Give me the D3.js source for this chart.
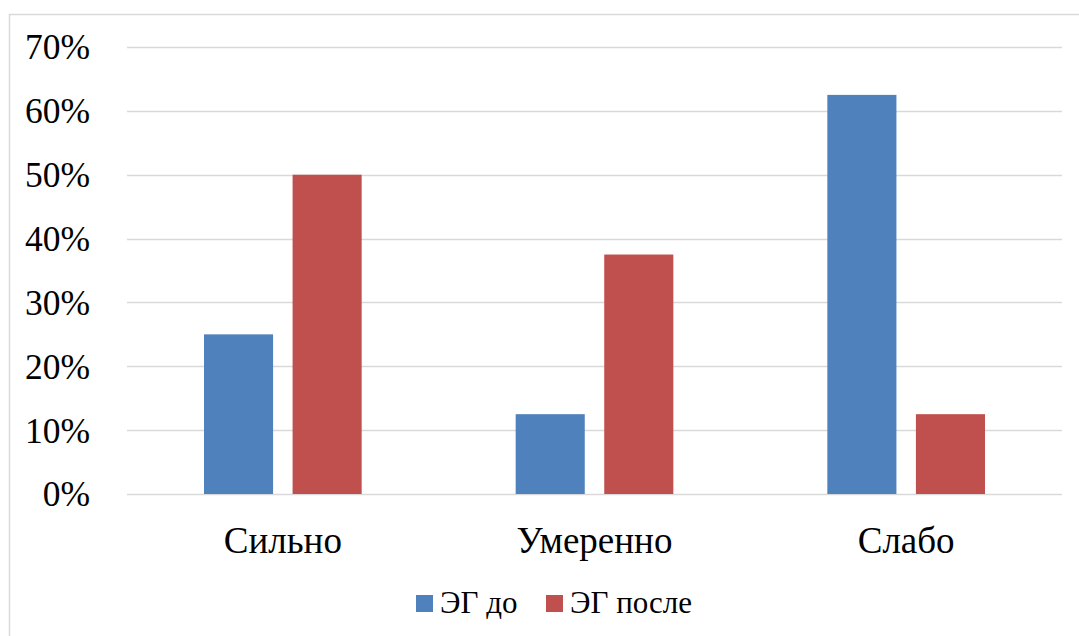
<!DOCTYPE html>
<html>
<head>
<meta charset="utf-8">
<script src="https://cdn.jsdelivr.net/npm/d3@7"></script>
<style>
  body { margin: 0; background: #fff; }
</style>
</head>
<body>
<script>
// chart data
var categories = ['Сильно', 'Умеренно', 'Слабо'];
var seriesNames = ['ЭГ до', 'ЭГ после'];
var before = [0.25, 0.125, 0.625];
var after = [0.50, 0.375, 0.125];
var yTicks = [0, 0.1, 0.2, 0.3, 0.4, 0.5, 0.6, 0.7];
var colors = ['#4f81bd', '#c0504d'];

var FONT = "'Liberation Serif', 'Times New Roman', serif";

var W = 1079, H = 636;
var margin = { top: 47, right: 17, bottom: 142, left: 127 };
var width = W - margin.left - margin.right;
var height = H - margin.top - margin.bottom;

var svg = d3.select('body').append('svg')
  .attr('width', W)
  .attr('height', H)
  .attr('font-family', FONT);

// outer frame (only top/left visible, rest cut off)
svg.append('path')
  .attr('d', 'M9.5,' + H + 'V14.5H' + W)
  .attr('fill', 'none')
  .attr('stroke', '#d9d9d9')
  .attr('stroke-width', 1.5);

var g = svg.append('g')
  .attr('transform', `translate(${margin.left}, ${margin.top})`);

var x0 = d3.scaleBand().domain(categories).range([0, width]);
var x1 = d3.scaleBand().domain(seriesNames).range([77, x0.bandwidth() - 77]).paddingInner(0.22);
var y = d3.scaleLinear().domain([0, 0.7]).range([height, 0]);

// gridlines
g.append('g')
  .selectAll('line')
  .data(yTicks)
  .join('line')
  .attr('x1', 0)
  .attr('x2', width)
  .attr('y1', function(d) { return Math.round(y(d)) + 0.5; })
  .attr('y2', function(d) { return Math.round(y(d)) + 0.5; })
  .attr('stroke', '#d9d9d9')
  .attr('stroke-width', 1.5);

// y labels
g.append('g')
  .selectAll('text')
  .data(yTicks)
  .join('text')
  .attr('x', -37)
  .attr('y', function(d) { return y(d); })
  .attr('dy', '0.35em')
  .attr('text-anchor', 'end')
  .attr('font-size', 35.5)
  .text(d3.format('.0%'));

// bars
var rows = categories.map(function(c, i) {
  return { cat: c, vals: [before[i], after[i]] };
});

var groups = g.selectAll('g.cat')
  .data(rows)
  .join('g')
  .attr('class', 'cat')
  .attr('transform', function(d) { return `translate(${x0(d.cat)}, 0)`; });

groups.selectAll('rect')
  .data(function(d) { return d.vals.map(function(v, j) { return { s: seriesNames[j], v: v, j: j }; }); })
  .join('rect')
  .attr('x', function(d) { return x1(d.s); })
  .attr('width', x1.bandwidth())
  .attr('y', function(d) { return y(d.v); })
  .attr('height', function(d) { return height - y(d.v); })
  .attr('fill', function(d) { return colors[d.j]; });

// category labels
g.append('g')
  .selectAll('text')
  .data(categories)
  .join('text')
  .attr('x', function(d) { return x0(d) + x0.bandwidth() / 2; })
  .attr('y', height + 59)
  .attr('text-anchor', 'middle')
  .attr('font-size', 37)
  .text(function(d) { return d; });

// legend
var legendX = [416, 546];
var legend = svg.append('g');
seriesNames.forEach(function(name, i) {
  legend.append('rect')
    .attr('x', legendX[i])
    .attr('y', 595)
    .attr('width', 17)
    .attr('height', 17)
    .attr('fill', colors[i]);
  legend.append('text')
    .attr('x', legendX[i] + 24)
    .attr('y', 613)
    .attr('font-size', 31)
    .text(name);
});
</script>
</body>
</html>
